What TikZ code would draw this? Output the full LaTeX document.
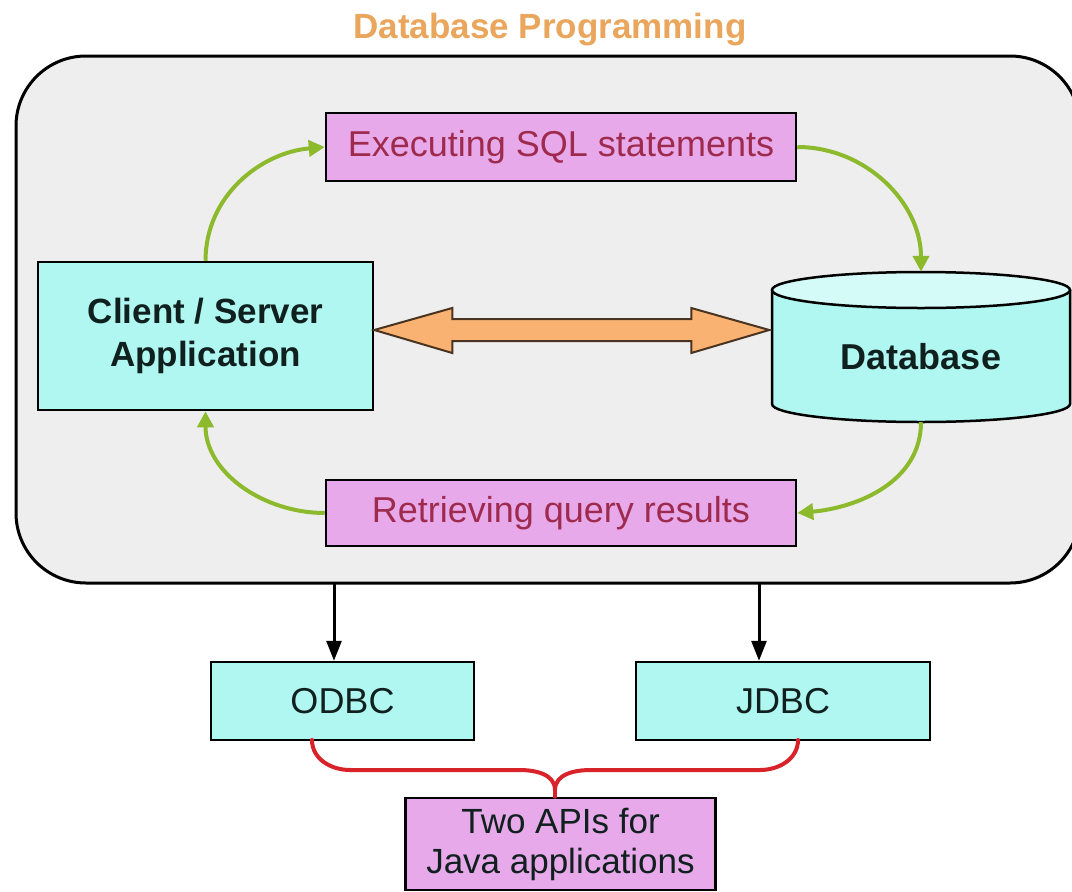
\documentclass[tikz,border=0pt]{standalone}
\usepackage{fontspec}
\setmainfont{Liberation Sans}
\usetikzlibrary{arrows.meta,calc}
\definecolor{bggray}{HTML}{EEEEEE}
\definecolor{cyanfill}{HTML}{B0F7F1}
\definecolor{pinkfill}{HTML}{E8A9EA}
\definecolor{pinktext}{HTML}{9E2B4E}
\definecolor{titleorange}{HTML}{E9A65C}
\definecolor{greenarr}{HTML}{8CBA2C}
\definecolor{orangefill}{HTML}{F9B272}
\definecolor{orangeedge}{HTML}{4A3420}
\definecolor{bracered}{HTML}{D8232A}
\definecolor{dbtop}{HTML}{D4FBF8}
\definecolor{darktext}{HTML}{10201E}
\begin{document}
\begin{tikzpicture}[x=1pt,y=1pt,
  framebox/.style={draw=black, line width=3pt, fill=bggray, rounded corners=70pt, inner sep=0pt},
  cyanbox/.style={draw=black, line width=2.5pt, fill=cyanfill, text=darktext, inner sep=0pt, align=center},
  pinkbox/.style={draw=black, line width=2.5pt, fill=pinkfill, text=pinktext, inner sep=0pt, align=center, font=\fontsize{36}{40}\selectfont},
  greenarrow/.style={draw=greenarr, line width=4pt, -{Triangle[length=16pt,width=16pt]}},
  blackarrow/.style={draw=black, line width=3pt, -{Triangle[length=20pt,width=15pt]}},
  bracestyle/.style={draw=bracered, line width=4pt, line cap=round, line join=round},
  dbline/.style={draw=black, line width=2.5pt},
  bothway/.style={draw=orangeedge, fill=orangefill, line width=2pt, line join=miter},
]
\useasboundingbox (0,0) rectangle (1072,-892);
\fill[white] (0,0) rectangle (1072,-892);

\node[text=titleorange, font=\bfseries\fontsize{35}{40}\selectfont] (title) at (550,-30) {Database Programming};

\node[framebox, minimum width=1064pt, minimum height=527pt] (frame) at (548,-319.5) {};

% boxes
\node[pinkbox, minimum width=470pt, minimum height=68pt] (exec) at (561,-147) {Executing SQL statements};
\node[pinkbox, minimum width=470pt, minimum height=66pt] (retr) at (561,-513) {Retrieving query results};
\node[cyanbox, minimum width=335pt, minimum height=148pt, font=\bfseries\fontsize{35}{43}\selectfont] (client) at (205.5,-336) {Client / Server\\Application};

% database cylinder
\fill[cyanfill] (772,-290) -- (772,-404) arc[start angle=180,end angle=360,x radius=149,y radius=18] -- (1070,-290) -- cycle;
\draw[dbline] (772,-290) -- (772,-404) arc[start angle=180,end angle=360,x radius=149,y radius=18] -- (1070,-290);
\draw[dbline, fill=dbtop] (921,-290) ellipse[x radius=149, y radius=18];
\node[minimum width=298pt, minimum height=150pt, inner sep=0pt] (db) at (921,-347) {};
\node[text=darktext, font=\bfseries\fontsize{36}{40}\selectfont] (dblabel) at (921,-357) {Database};

% double arrow
\coordinate (L) at (client.east |- 0,-330);
\draw[bothway] (L) -- ++(78,22) -- ++(0,-11) -- ++(239,0) -- ++(0,11) -- ++(78,-22)
  -- ++(-78,-23) -- ++(0,12) -- ++(-239,0) -- ++(0,-12) -- cycle;

% green cycle arrows
\draw[greenarrow] (client.north) to[out=90,in=185] (exec.west);
\draw[greenarrow] (exec.east) to[out=0,in=90] (db.north);
\draw[greenarrow] (db.south) to[out=-90,in=5] (retr.east);
\draw[greenarrow] (retr.west) to[out=180,in=-90] (client.south);

% lower boxes
\node[cyanbox, minimum width=263pt, minimum height=78pt, font=\fontsize{36}{40}\selectfont] (odbc) at (342.5,-701) {ODBC};
\node[cyanbox, minimum width=294pt, minimum height=78pt, font=\fontsize{36}{40}\selectfont] (jdbc) at (783,-701) {JDBC};
\node[pinkbox, text=darktext, minimum width=310pt, minimum height=92pt, font=\fontsize{35}{40}\selectfont] (apis) at (560.5,-844) {Two APIs for\\Java applications};

% black arrows
\coordinate (a1) at (334,-583);
\coordinate (a2) at (759,-583);
\draw[blackarrow] (a1) -- (a1 |- odbc.north);
\draw[blackarrow] (a2) -- (a2 |- jdbc.north);

% brace
\coordinate (b1) at (312,-740);
\coordinate (b2) at (798,-740);
\coordinate (bp) at (555,-790);
\draw[bracestyle] (b1) to[out=-90,in=180] (350,-770) -- (519,-770) to[out=0,in=90] (bp)
  to[out=90,in=180] (591,-770) -- (760,-770) to[out=0,in=-90] (b2);
\draw[bracestyle] (bp) -- (bp |- apis.north);
\end{tikzpicture}
\end{document}
